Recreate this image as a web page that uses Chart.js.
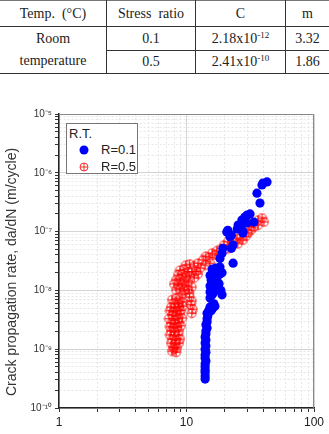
<!DOCTYPE html>
<html>
<head>
<meta charset="utf-8">
<script src="https://cdn.jsdelivr.net/npm/chart.js@4/dist/chart.umd.min.js"></script>
<style>
  html, body { margin: 0; padding: 0; background: #fff; }
  body { width: 329px; height: 434px; position: relative; overflow: hidden; }
  #params {
    position: absolute; left: 0; top: 0; width: 329px;
    border-collapse: collapse; table-layout: fixed;
    font-family: "Liberation Serif", "Times New Roman", serif; font-size: 14px; color: #222;
    border-top: 1px solid #777; border-bottom: 1.5px solid #333;
  }
  #params td { text-align: center; padding: 0; border-left: 1px solid #333; line-height: 22px; }
  #params td.first { border-left: none; }
  #params tr.head td { height: 25px; border-bottom: 1px solid #333; }
  #params tr.r1 td { height: 23px; border-bottom: 1px solid #333; }
  #params tr.r2 td { height: 22px; }
  #params sup { font-size: 9px; vertical-align: 5px; line-height: 0; }
  #chart { position: absolute; left: 0; top: 80px; }
  #legend {
    position: absolute; left: 66px; top: 123px; width: 70px; height: 49px;
    border: 1px solid #777; background: #fff;
    font-family: "Liberation Sans", Arial, sans-serif; font-size: 13px; color: #222;
  }
  #legend .title { position: absolute; left: 2px; top: 2px; }
  #legend .row { position: absolute; left: 0; height: 16px; line-height: 16px; }
  #legend .row span { position: absolute; left: 34px; top: 0; }
  #legend svg { position: absolute; left: 12px; top: 3px; }
</style>
</head>
<body>
<table id="params">
  <tr class="head">
    <td class="first" style="width:106px">Temp. &nbsp;(°C)</td>
    <td style="width:88px">Stress &nbsp;ratio</td>
    <td style="width:89px">C</td>
    <td>m</td>
  </tr>
  <tr class="r1">
    <td class="first" rowspan="2" style="border-bottom:none">Room<br>temperature</td>
    <td>0.1</td>
    <td>2.18x10<sup>-12</sup></td>
    <td>3.32</td>
  </tr>
  <tr class="r2">
    <td>0.5</td>
    <td>2.41x10<sup>-10</sup></td>
    <td>1.86</td>
  </tr>
</table>

<canvas id="chart" width="329" height="354"></canvas>

<div id="legend">
  <div class="title">R.T.</div>
  <div class="row" style="top:18px">
    <svg width="10" height="10"><circle cx="5" cy="5" r="4.5" fill="#0000ff"/></svg>
    <span>R=0.1</span>
  </div>
  <div class="row" style="top:35px">
    <svg width="10" height="10"><circle cx="5" cy="5" r="4" fill="none" stroke="#ff0000" stroke-width="0.8"/><path d="M1 5H9M5 1V9" stroke="#ff0000" stroke-width="0.8"/></svg>
    <span>R=0.5</span>
  </div>
</div>

<script>
// axis decades and their labels
const xDecades = [1, 10, 100]
const xTickLabels = ['1', '10', '100']
const yDecades = [1e-10, 1e-9, 1e-8, 1e-7, 1e-6, 1e-5]
const yTickLabels = ['10⁻¹⁰', '10⁻⁹', '10⁻⁸', '10⁻⁷', '10⁻⁶', '10⁻⁵']
const yTitle = 'Crack propagation rate, da/dN (m/cycle)'

// R=0.1
const r01X = [
  14.0, 14.0, 14.0, 14.0, 14.0, 14.0, 14.2, 14.0, 14.0, 14.2, 14.0, 14.2, 14.0, 14.2, 14.0,
  14.2, 14.2, 14.5, 14.2, 14.5, 14.5, 14.7, 14.5, 15.0, 15.3, 15.9, 16.4, 16.1, 15.6, 16.7,
  15.3, 15.9, 15.3, 15.6, 15.3, 15.9, 15.6, 16.1, 15.3, 16.4, 15.9, 17.0, 17.7, 18.3, 17.3,
  18.0, 18.6, 19.0, 17.0, 16.4, 18.3, 19.0, 18.3, 19.0, 19.3, 22.5, 23.2, 23.2, 20.7, 21.1,
  21.9, 22.5, 25.0, 25.4, 27.2, 27.2, 27.7, 27.7, 28.7, 29.8, 29.8, 31.5, 33.8, 37.7, 35.7,
  39.1, 39.8, 42.8,
]
const r01Y = [
  3.1e-10, 3.5e-10, 4.0e-10, 4.4e-10, 5.0e-10, 5.6e-10, 6.3e-10, 7.1e-10, 8.0e-10, 8.9e-10,
  1.0e-9, 1.13e-9, 1.27e-9, 1.43e-9, 1.61e-9, 1.82e-9, 2.04e-9, 2.3e-9, 2.6e-9, 2.9e-9,
  3.3e-9, 3.7e-9, 4.1e-9, 4.6e-9, 5.2e-9, 5.6e-9, 5.9e-9, 5.0e-9, 4.5e-9, 5.4e-9,
  7.4e-9, 8.4e-9, 9.4e-9, 1.06e-8, 1.19e-8, 1.34e-8, 1.5e-8, 1.7e-8, 1.8e-8, 2.0e-8,
  2.3e-8, 2.4e-8, 2.2e-8, 1.9e-8, 1.6e-8, 1.3e-8, 1.0e-8, 8.4e-9, 1.1e-8, 9.4e-9,
  2.5e-8, 2.0e-8, 3.5e-8, 4.3e-8, 5.2e-8, 5.2e-8, 5.9e-8, 2.9e-8, 9.8e-8, 1.05e-7,
  8.2e-8, 8.7e-8, 1.11e-7, 1.29e-7, 1.29e-7, 1.57e-7, 1.0e-7, 9.5e-8, 1.77e-7, 1.9e-7,
  1.4e-7, 2.0e-7, 1.45e-7, 3.06e-7, 4.5e-7, 6.2e-7, 6.7e-7, 7.0e-7,
]

// R=0.5
const r05X = [
  7.70, 8.28, 8.89, 7.98, 8.58, 9.22, 7.56, 8.13, 8.73, 9.39, 7.42, 7.84, 8.42, 9.05, 7.70,
  8.28, 8.89, 7.29, 7.98, 8.58, 9.22, 7.56, 8.13, 8.73, 7.42, 7.84, 8.42, 9.05, 7.56, 8.13,
  8.73, 7.42, 7.98, 8.58, 7.70, 8.28, 8.89, 7.56, 8.13, 8.73, 7.84, 8.42, 7.70, 8.28, 7.98,
  10.6, 11.0, 10.8, 11.2, 11.0, 10.5,
  8.28, 8.89, 9.56, 8.58, 9.22, 9.91, 8.28, 8.89, 9.56, 10.3, 8.58, 9.22, 9.91, 10.6, 8.89,
  9.56, 10.3, 11.0, 9.91, 10.6, 11.5, 11.9, 11.5, 12.3, 12.8, 12.3, 11.0, 10.3, 9.22, 7.98,
  13.5, 14.2, 15.0, 15.9, 16.7, 14.0, 15.3, 17.3, 18.7, 21.1, 22.3, 21.1, 23.2, 24.9, 26.3,
  27.7, 25.3, 30.4, 32.1, 33.8, 30.9, 33.2, 36.4, 36.4, 39.1, 40.5, 29.3, 19.7,
]
const r05Y = [
  6.9e-9, 7.4e-9, 6.9e-9, 6.1e-9, 5.9e-9, 6.4e-9, 5.2e-9, 5.0e-9, 5.2e-9, 5.4e-9,
  4.5e-9, 4.3e-9, 4.5e-9, 4.6e-9, 3.8e-9, 3.7e-9, 4.0e-9, 3.3e-9, 3.1e-9, 3.3e-9,
  3.4e-9, 2.8e-9, 2.7e-9, 2.8e-9, 2.4e-9, 2.3e-9, 2.4e-9, 2.5e-9, 2.04e-9, 1.96e-9,
  2.04e-9, 1.75e-9, 1.68e-9, 1.75e-9, 1.49e-9, 1.43e-9, 1.49e-9, 1.27e-9, 1.22e-9, 1.27e-9,
  1.09e-9, 1.05e-9, 9.3e-10, 8.9e-10, 1.0e-9,
  7.7e-9, 6.6e-9, 5.7e-9, 4.8e-9, 4.1e-9, 9.0e-9,
  1.02e-8, 1.06e-8, 9.8e-9, 1.24e-8, 1.29e-8, 1.19e-8, 1.5e-8, 1.56e-8, 1.45e-8, 1.39e-8,
  1.83e-8, 1.9e-8, 1.76e-8, 1.7e-8, 2.2e-8, 2.3e-8, 2.1e-8, 2.06e-8, 2.7e-8, 2.8e-8,
  2.6e-8, 2.1e-8, 1.63e-8, 1.9e-8, 2.4e-8, 2.9e-8, 1.14e-8, 1.02e-8, 8.7e-9, 1.29e-8,
  3.3e-8, 3.8e-8, 3.6e-8, 4.3e-8, 4.0e-8, 2.7e-8, 2.9e-8, 4.7e-8, 5.1e-8, 5.1e-8,
  5.7e-8, 6.7e-8, 6.9e-8, 7.5e-8, 7.8e-8, 7.2e-8, 6.2e-8, 9.5e-8, 1.06e-7, 1.20e-7,
  1.24e-7, 1.40e-7, 1.29e-7, 1.57e-7, 1.70e-7, 1.46e-7, 8.4e-8, 5.9e-8,
]

const toPoints = (xs, ys) => xs.map((x, i) => ({ x, y: ys[i] }))

// circle with a cross, used as point style for R=0.5
function crossCircle() {
  const c = document.createElement('canvas')
  c.width = 11
  c.height = 11
  const g = c.getContext('2d')
  g.strokeStyle = '#ff0000'
  g.lineWidth = 0.9
  g.beginPath()
  g.arc(5.5, 5.5, 4.4, 0, Math.PI * 2)
  g.moveTo(1.1, 5.5)
  g.lineTo(9.9, 5.5)
  g.moveTo(5.5, 1.1)
  g.lineTo(5.5, 9.9)
  g.stroke()
  return c
}

function logTicks(decades) {
  const out = []
  decades.slice(0, -1).forEach((d) => {
    for (let m = 1; m < 10; m++) out.push({ value: +(d * m).toPrecision(3) })
  })
  out.push({ value: decades[decades.length - 1] })
  return out
}

const decadeIndex = (decades, v) => decades.findIndex((d) => Math.abs(d - v) / d < 1e-6)

function gridStyle(decades) {
  return {
    color: (ctx) => (ctx.tick && decadeIndex(decades, ctx.tick.value) >= 0 ? '#d4d4d4' : '#e6e6e6'),
    lineWidth: 1,
    tickLength: 4,
    tickColor: '#333',
  }
}
function borderStyle(decades) {
  return {
    color: '#222',
    width: 1.5,
    dash: (ctx) => (ctx.tick && decadeIndex(decades, ctx.tick.value) < 0 ? [2, 2] : []),
  }
}

const framePlugin = {
  id: 'frame',
  afterDraw(chart) {
    const { ctx, chartArea: a } = chart
    ctx.save()
    ctx.strokeStyle = '#888'
    ctx.lineWidth = 1
    ctx.beginPath()
    ctx.moveTo(a.left, a.top + 0.5)
    ctx.lineTo(a.right - 0.5, a.top + 0.5)
    ctx.lineTo(a.right - 0.5, a.bottom)
    ctx.stroke()
    // y axis title
    ctx.translate(12, 192)
    ctx.rotate(-Math.PI / 2)
    ctx.fillStyle = '#333'
    ctx.font = '14px "Liberation Sans", Arial, sans-serif'
    ctx.textAlign = 'center'
    ctx.textBaseline = 'middle'
    ctx.fillText(yTitle, 0, 0)
    ctx.restore()
  },
}

new Chart(document.getElementById('chart'), {
  type: 'scatter',
  data: {
    datasets: [
      {
        label: 'R=0.1',
        data: toPoints(r01X, r01Y),
        pointStyle: 'circle',
        pointRadius: 4.6,
        backgroundColor: '#0000ff',
        borderWidth: 0,
      },
      {
        label: 'R=0.5',
        data: toPoints(r05X, r05Y),
        pointStyle: crossCircle(),
        pointRadius: 5,
      },
    ],
  },
  options: {
    responsive: false,
    animation: false,
    events: [],
    layout: { padding: { top: 34, right: 15, left: 0, bottom: 0 } },
    plugins: { legend: { display: false }, tooltip: { enabled: false } },
    scales: {
      x: {
        type: 'logarithmic',
        min: 1,
        max: 100,
        afterBuildTicks: (s) => { s.ticks = logTicks(xDecades) },
        afterFit: (s) => { s.height = 26 },
        ticks: {
          autoSkip: false,
          maxRotation: 0,
          padding: 3,
          color: '#222',
          font: { family: '"Liberation Sans", Arial, sans-serif', size: 12 },
          callback: (v) => { const i = decadeIndex(xDecades, v); return i >= 0 ? xTickLabels[i] : '' },
        },
        grid: gridStyle(xDecades),
        border: borderStyle(xDecades),
      },
      y: {
        type: 'logarithmic',
        min: 1e-10,
        max: 1e-5,
        afterBuildTicks: (s) => { s.ticks = logTicks(yDecades) },
        afterFit: (s) => { s.width = 59 },
        ticks: {
          autoSkip: false,
          padding: 3,
          color: '#333',
          font: { family: '"Liberation Sans", Arial, sans-serif', size: 10 },
          callback: (v) => { const i = decadeIndex(yDecades, v); return i >= 0 ? yTickLabels[i] : '' },
        },
        grid: gridStyle(yDecades),
        border: borderStyle(yDecades),
      },
    },
  },
  plugins: [framePlugin],
})
</script>
</body>
</html>
